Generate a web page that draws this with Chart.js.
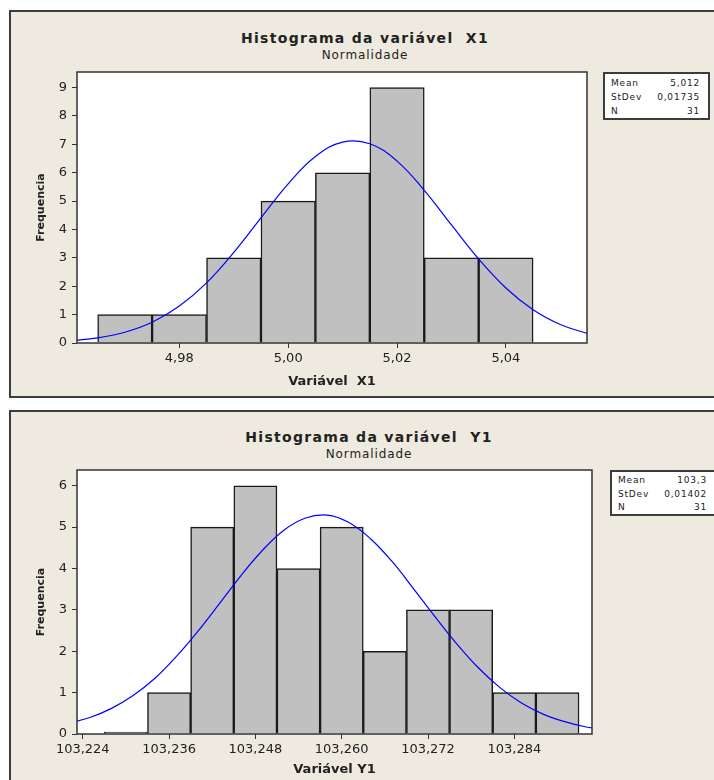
<!DOCTYPE html>
<html>
<head>
<meta charset="utf-8">
<script src="https://cdn.jsdelivr.net/npm/chart.js@4.4.1/dist/chart.umd.min.js"></script>
<style>
  body { margin: 0; width: 714px; height: 780px; overflow: hidden; background: #fff; position: relative;
         font-family: 'DejaVu Sans', sans-serif; color: #222; }
  .panel { position: absolute; left: 9px; width: 740px; background: #eeeae0; border: 2px solid #3c3c3c; box-sizing: border-box; }
  .title { position: absolute; left: 9px; font-size: 14px; font-weight: bold; line-height: 16px; letter-spacing: 1.3px; text-align: center; white-space: pre; }
  .sub { position: absolute; left: 9px; font-size: 12px; line-height: 14px; letter-spacing: 0.9px; text-align: center; }
  canvas { position: absolute; left: 11px; }
  .stats { position: absolute; background: #fff; border: 2px solid #3c3c3c; box-sizing: border-box;
           font-size: 9px; letter-spacing: 0.8px; padding: 2px 8px 0 6px; }
  .stats div { display: flex; justify-content: space-between; }
</style>
</head>
<body>
<div class="panel" style="top:10px; height:388px;"></div>
<div class="panel" style="top:410px; height:400px;"></div>

<div class="title" style="top:30px; width:712px;">Histograma da variável  X1</div>
<div class="sub" style="top:48px; width:712px;">Normalidade</div>
<div class="title" style="top:429px; width:720px;">Histograma da variável  Y1</div>
<div class="sub" style="top:447px; width:720px;">Normalidade</div>

<canvas id="histX1" width="700" height="383" style="top:12px;"></canvas>
<canvas id="histY1" width="700" height="368" style="top:412px;"></canvas>

<div class="stats" id="statsX1" style="left:603px; top:72px; width:107px; height:48px; line-height:14px;"></div>
<div class="stats" id="statsY1" style="left:610px; top:470px; width:107px; height:46px; line-height:13.5px;"></div>

<script>
// Variável X1
const binsX1 = [4.97, 4.98, 4.99, 5.00, 5.01, 5.02, 5.03, 5.04];
const countsX1 = [1, 1, 3, 5, 6, 9, 3, 3];
const curveX1x = [4.960, 4.965, 4.970, 4.975, 4.980, 4.985, 4.990, 4.995, 5.000, 5.005,
                  5.010, 5.015, 5.020, 5.025, 5.030, 5.035, 5.040, 5.045, 5.050, 5.055];
const curveX1y = [0.08, 0.18, 0.38, 0.73, 1.30, 2.12, 3.19, 4.41, 5.61, 6.57,
                  7.08, 7.02, 6.41, 5.38, 4.16, 2.96, 1.94, 1.17, 0.65, 0.33];
const xTicksX1 = [4.98, 5.00, 5.02, 5.04];
const yTicksX1 = [0, 1, 2, 3, 4, 5, 6, 7, 8, 9];
const statsX1 = ['5,012', '0,01735', '31'];

// Variável Y1
const binsY1 = [103.230, 103.236, 103.242, 103.248, 103.254, 103.260, 103.266, 103.272, 103.278, 103.284, 103.290];
const countsY1 = [0, 1, 5, 6, 4, 5, 2, 3, 3, 1, 1];
const curveY1x = [103.222, 103.225, 103.228, 103.231, 103.234, 103.237, 103.240, 103.243, 103.246,
                  103.249, 103.252, 103.255, 103.258, 103.261, 103.264, 103.267, 103.270, 103.273,
                  103.276, 103.279, 103.282, 103.285, 103.288, 103.291, 103.294, 103.297];
const curveY1y = [0.26, 0.40, 0.62, 0.93, 1.34, 1.87, 2.48, 3.15, 3.83,
                  4.44, 4.93, 5.22, 5.29, 5.11, 4.72, 4.17, 3.51, 2.83,
                  2.18, 1.60, 1.12, 0.75, 0.48, 0.30, 0.17, 0.10];
const xTicksY1 = [103.224, 103.236, 103.248, 103.260, 103.272, 103.284];
const yTicksY1 = [0, 1, 2, 3, 4, 5, 6];
const statsY1 = ['103,3', '0,01402', '31'];

const statNames = ['Mean', 'StDev', 'N'];

Chart.defaults.font.family = "'DejaVu Sans', sans-serif";
Chart.defaults.color = '#222';

// white plot area + dark frame around it
const plotFrame = {
  id: 'plotFrame',
  beforeDraw(chart) {
    const { ctx, chartArea: a } = chart;
    ctx.save();
    ctx.fillStyle = '#fff';
    ctx.fillRect(a.left, a.top, a.width, a.height);
    ctx.restore();
  },
  afterDatasetsDraw(chart) {
    const { ctx, chartArea: a } = chart;
    ctx.save();
    ctx.strokeStyle = '#333';
    ctx.lineWidth = 1.5;
    ctx.strokeRect(a.left, a.top, a.width, a.height);
    ctx.restore();
  }
};

function histogram(id, s) {
  return new Chart(document.getElementById(id), {
    type: 'bar',
    data: {
      datasets: [{
        type: 'line',
        data: s.curveX.map((x, i) => ({ x: x, y: s.curveY[i] })),
        borderColor: '#0000ff',
        borderWidth: 1.2,
        pointRadius: 0,
        tension: 0.4,
        clip: 0,
        order: 0
      }, {
        data: s.bins.map((x, i) => ({ x: x, y: s.counts[i] })),
        backgroundColor: '#c0c0c0',
        borderColor: '#1a1a1a',
        borderWidth: 1.5,
        barPercentage: 1,
        categoryPercentage: 1,
        minBarLength: 2,
        order: 1
      }]
    },
    options: {
      responsive: false,
      animation: false,
      events: [],
      layout: { padding: s.padding },
      plugins: { legend: { display: false }, tooltip: { enabled: false } },
      scales: {
        x: {
          type: 'linear',
          min: s.xMin,
          max: s.xMax,
          offset: false,
          afterBuildTicks: sc => { sc.ticks = s.xTicks.map(v => ({ value: v })); },
          afterFit: sc => { sc.height = s.xHeight; },
          ticks: { font: { size: 13 }, padding: 3, maxRotation: 0, autoSkip: false,
                   callback: v => v.toFixed(s.decimals).replace('.', ',') },
          grid: { offset: false, drawOnChartArea: false, tickLength: 5, color: '#333' },
          border: { display: false },
          title: { display: true, text: s.xTitle, font: { size: 13, weight: 'bold' }, padding: { top: 0, bottom: 0 } }
        },
        y: {
          min: 0,
          max: s.yMax,
          afterBuildTicks: sc => { sc.ticks = s.yTicks.map(v => ({ value: v })); },
          afterFit: sc => { sc.width = 60; },
          ticks: { font: { size: 13 }, padding: 5 },
          grid: { drawOnChartArea: false, tickLength: 5, color: '#333' },
          border: { display: false },
          title: { display: true, text: 'Frequencia', font: { size: 11, weight: 'bold' }, padding: { top: 18, bottom: 0 } }
        }
      }
    },
    plugins: [plotFrame]
  });
}

histogram('histX1', {
  bins: binsX1, counts: countsX1, curveX: curveX1x, curveY: curveX1y,
  xTicks: xTicksX1, yTicks: yTicksX1, xMin: 4.9612, xMax: 5.0549, yMax: 9.55,
  decimals: 2, xTitle: 'Variável  X1', xHeight: 46,
  padding: { left: 6, right: 124, top: 60, bottom: 6 }
});

histogram('histY1', {
  bins: binsY1, counts: countsY1, curveX: curveY1x, curveY: curveY1y,
  xTicks: xTicksY1, yTicks: yTicksY1, xMin: 103.2232, xMax: 103.2948, yMax: 6.38,
  decimals: 3, xTitle: 'Variável Y1', xHeight: 43,
  padding: { left: 6, right: 119, top: 58, bottom: 3 }
});

// stats boxes
function fillStats(id, values) {
  document.getElementById(id).innerHTML = statNames
    .map((n, i) => '<div><span>' + n + '</span><span>' + values[i] + '</span></div>')
    .join('');
}
fillStats('statsX1', statsX1);
fillStats('statsY1', statsY1);
</script>
</body>
</html>
